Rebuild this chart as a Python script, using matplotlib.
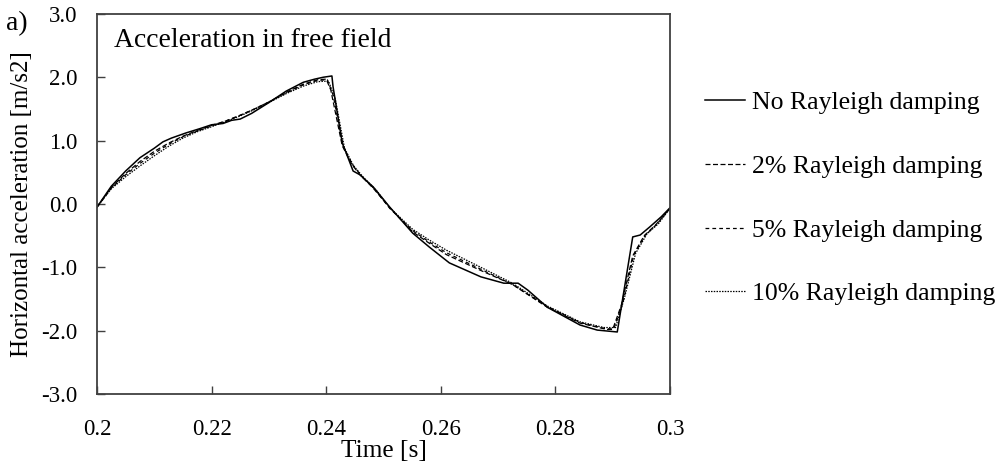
import matplotlib
matplotlib.use("Agg")
from matplotlib import pyplot as plt

plt.rcParams['font.family'] = ['Liberation Serif', 'DejaVu Serif']

# no Rayleigh damping (solid)
t_none = [0.2000, 0.2025, 0.2050, 0.2075, 0.2100, 0.2115, 0.2130, 0.2155, 0.2180,
          0.2200, 0.2220, 0.2235, 0.2250, 0.2270, 0.2300, 0.2330, 0.2360, 0.2380,
          0.2395, 0.2410, 0.2412, 0.2428, 0.2433, 0.2447, 0.2459, 0.2482, 0.2511,
          0.2551, 0.2580, 0.2615, 0.2670, 0.2710, 0.2735, 0.2752, 0.2786, 0.2843,
          0.2873, 0.2908, 0.2935, 0.2948, 0.2965, 0.2985, 0.3000]
a_none = [-0.05, 0.28, 0.52, 0.73, 0.88, 0.98, 1.04, 1.12, 1.19,
          1.25, 1.27, 1.32, 1.34, 1.43, 1.60, 1.78, 1.92, 1.97,
          2.00, 2.02, 1.85, 0.96, 0.85, 0.52, 0.46, 0.27, -0.05,
          -0.46, -0.68, -0.93, -1.15, -1.25, -1.25, -1.36, -1.63, -1.91,
          -1.99, -2.02, -0.52, -0.49, -0.36, -0.20, -0.06]

# 2% Rayleigh damping
t_2 = [0.2000, 0.2025, 0.2050, 0.2075, 0.2100, 0.2125, 0.2150, 0.2175, 0.2200,
       0.2225, 0.2250, 0.2275, 0.2300, 0.2330, 0.2360, 0.2385, 0.2400, 0.2408,
       0.2428, 0.2445, 0.2460, 0.2482, 0.2511, 0.2551, 0.2580, 0.2610, 0.2670,
       0.2725, 0.2786, 0.2843, 0.2890, 0.2900, 0.2915, 0.2935, 0.2955, 0.2975,
       0.3000]
a_2 = [-0.05, 0.26, 0.48, 0.67, 0.83, 0.96, 1.07, 1.16, 1.24,
       1.31, 1.40, 1.50, 1.61, 1.76, 1.89, 1.96, 1.97, 1.80,
       0.92, 0.62, 0.45, 0.25, -0.06, -0.44, -0.62, -0.80, -1.05,
       -1.27, -1.63, -1.88, -1.98, -1.98, -1.60, -0.82, -0.50, -0.33,
       -0.07]

# 5% Rayleigh damping
t_5 = [0.2000, 0.2025, 0.2050, 0.2075, 0.2100, 0.2125, 0.2150, 0.2175, 0.2200,
       0.2225, 0.2250, 0.2275, 0.2300, 0.2330, 0.2360, 0.2385, 0.2402, 0.2412,
       0.2430, 0.2446, 0.2462, 0.2485, 0.2511, 0.2551, 0.2580, 0.2610, 0.2670,
       0.2725, 0.2786, 0.2843, 0.2888, 0.2902, 0.2918, 0.2937, 0.2957, 0.2977,
       0.3000]
a_5 = [-0.05, 0.25, 0.46, 0.64, 0.80, 0.94, 1.06, 1.15, 1.23,
       1.31, 1.40, 1.50, 1.61, 1.75, 1.88, 1.95, 1.96, 1.72,
       0.90, 0.62, 0.44, 0.23, -0.07, -0.42, -0.60, -0.77, -1.03,
       -1.27, -1.62, -1.87, -1.97, -1.97, -1.55, -0.80, -0.49, -0.32,
       -0.07]

# 10% Rayleigh damping
t_10 = [0.2000, 0.2025, 0.2050, 0.2075, 0.2100, 0.2125, 0.2150, 0.2175, 0.2200,
        0.2225, 0.2250, 0.2275, 0.2300, 0.2330, 0.2360, 0.2385, 0.2404, 0.2416,
        0.2432, 0.2448, 0.2465, 0.2488, 0.2511, 0.2551, 0.2580, 0.2610, 0.2670,
        0.2725, 0.2786, 0.2843, 0.2885, 0.2905, 0.2920, 0.2940, 0.2960, 0.2980,
        0.3000]
a_10 = [-0.05, 0.24, 0.43, 0.60, 0.76, 0.91, 1.04, 1.14, 1.22,
        1.30, 1.39, 1.49, 1.60, 1.74, 1.86, 1.93, 1.94, 1.65,
        0.88, 0.60, 0.42, 0.21, -0.06, -0.40, -0.57, -0.73, -1.00,
        -1.25, -1.61, -1.86, -1.95, -1.95, -1.50, -0.78, -0.47, -0.31,
        -0.07]

labels = ['No Rayleigh damping', '2% Rayleigh damping',
          '5% Rayleigh damping', '10% Rayleigh damping']
x_ticks = [0.2, 0.22, 0.24, 0.26, 0.28, 0.3]
x_ticklabels = ['0.2', '0.22', '0.24', '0.26', '0.28', '0.3']
y_ticks = [-3, -2, -1, 0, 1, 2, 3]

fig = plt.figure(figsize=(10.04, 4.62), dpi=100)
ax = fig.add_axes([0.0966, 0.147, 0.5707, 0.823])

ax.plot(t_none, a_none, color='black', lw=1.1, label=labels[0])
ax.plot(t_2, a_2, color='black', lw=0.9, dashes=(4, 2), label=labels[1])
ax.plot(t_5, a_5, color='black', lw=0.9, dashes=(3, 2.5), label=labels[2])
ax.plot(t_10, a_10, color='black', lw=0.9, dashes=(1.2, 1.0), label=labels[3])

ax.set_xlim(0.2, 0.3)
ax.set_ylim(-3, 3)
ax.set_xticks(x_ticks)
ax.set_xticklabels(x_ticklabels)
ax.set_yticks(y_ticks)
ax.set_yticklabels(['%.1f' % v for v in y_ticks])
ax.tick_params(axis='both', direction='in', length=6, width=1, labelsize=16.5,
               color='#404040', top=False, right=False)
ax.tick_params(axis='x', pad=18)
ax.tick_params(axis='y', pad=14)
for s in ax.spines.values():
    s.set_linewidth(1.3)
    s.set_color('#404040')

ax.set_xlabel('Time [s]', fontsize=18.3, labelpad=0)
ax.set_ylabel('Horizontal acceleration [m/s2]', fontsize=18, labelpad=6)

ax.text(0.03, 0.93, 'Acceleration in free field', transform=ax.transAxes,
        fontsize=19.9, va='center', ha='left')
fig.text(0.006, 0.948, 'a)', fontsize=20, va='center', ha='left')

fig.legend(loc='upper left', bbox_to_anchor=(0.702, 0.802), frameon=False,
           fontsize=18.5, handlelength=1.55, handletextpad=0.3,
           labelspacing=1.58, borderpad=0, borderaxespad=0)

plt.savefig('out.png', dpi=100)
